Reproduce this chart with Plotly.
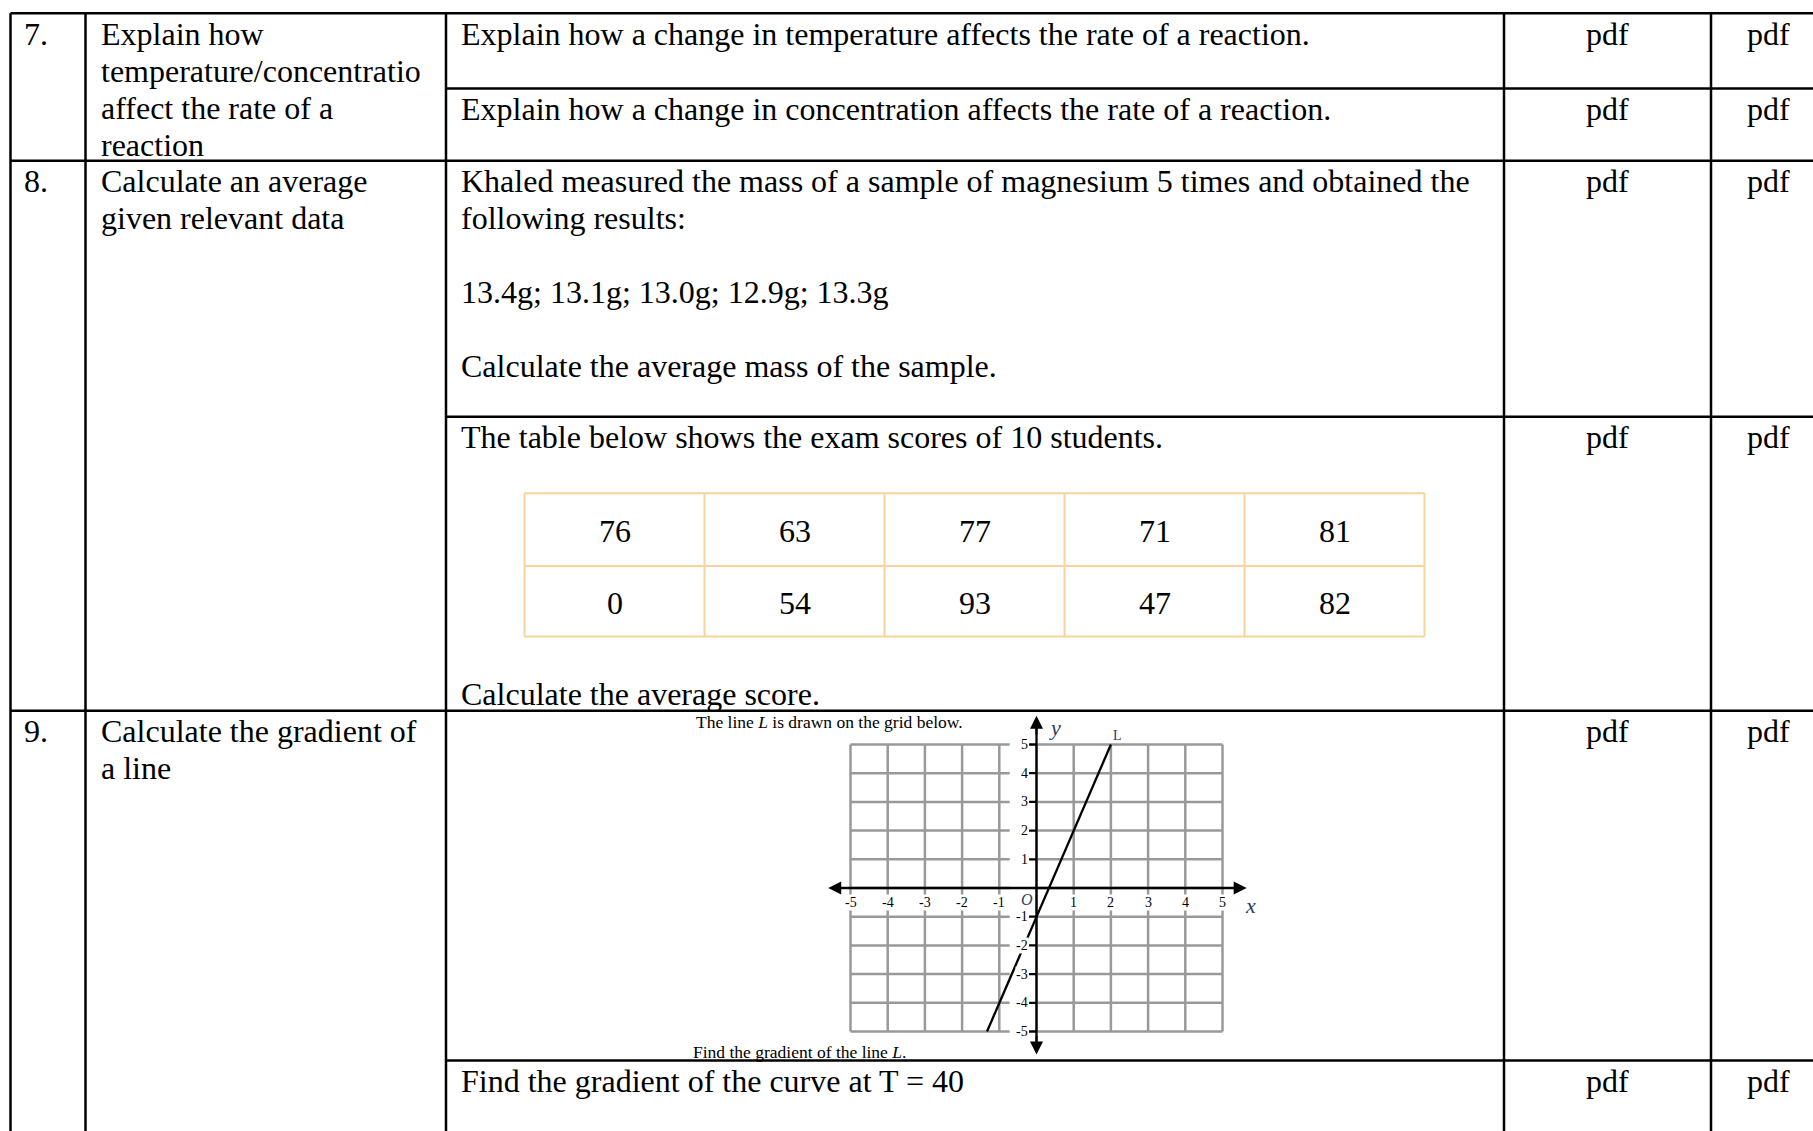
import plotly.graph_objects as go

W, H = 1813, 1131

# ---------------- data ----------------
row_numbers = ["7.", "8.", "9."]
skill_lines = [
    ["Explain how", "temperature/concentratio", "affect the rate of a", "reaction"],
    ["Calculate an average", "given relevant data"],
    ["Calculate the gradient of", "a line"],
]
q7a = "Explain how a change in temperature affects the rate of a reaction."
q7b = "Explain how a change in concentration affects the rate of a reaction."
q8a_lines = ["Khaled measured the mass of a sample of magnesium 5 times and obtained the",
             "following results:"]
masses = ["13.4g", "13.1g", "13.0g", "12.9g", "13.3g"]
q8a_end = "Calculate the average mass of the sample."
q8b_intro = "The table below shows the exam scores of 10 students."
scores_row1 = [76, 63, 77, 71, 81]
scores_row2 = [0, 54, 93, 47, 82]
q8b_end = "Calculate the average score."
graph_title = "The line <i>L</i> is drawn on the grid below."
graph_question = "Find the gradient of the line <i>L</i>."
q9b = "Find the gradient of the curve at T = 40"
resource_a = "pdf"
resource_b = "pdf"

line_L_x = [-1.33, 2]
line_L_y = [-5, 5]
x_tick_values = [-5, -4, -3, -2, -1, 1, 2, 3, 4, 5]
y_tick_values = [5, 4, 3, 2, 1, -1, -2, -3, -4, -5]
grid_values = [-5, -4, -3, -2, -1, 0, 1, 2, 3, 4, 5]

# ---------------- layout constants (pixels) ----------------
SERIF = "Liberation Serif, Times New Roman, serif"
FS = 32
COL_X = [10.5, 85.5, 446, 1504, 1711]
TOP = 13.3
HLINES = [(13.3, 10.5), (88.5, 446), (160.7, 10.5), (416.7, 446), (710.7, 10.5), (1060.5, 446)]
X_NUM, X_SKILL, X_Q = 22, 99, 458.5
PDF_X = [1607.5, 1768]
BASE_OFF = 31.0   # baseline distance below a row's top border

fig = go.Figure()
shapes = []
annotations = []


def mid(baseline, size):
    return baseline - 0.3375 * size


def text(x, baseline, s, size=FS, anchor="left", color="black"):
    annotations.append(dict(x=x, y=mid(baseline, size), xref="x", yref="y", text=s,
                            showarrow=False, xanchor=anchor, yanchor="middle",
                            font=dict(family=SERIF, size=size, color=color)))


# table lines
for y, x0 in HLINES:
    shapes.append(dict(type="line", xref="x", yref="y", x0=x0, x1=W + 5, y0=y, y1=y,
                       line=dict(color="black", width=2.5)))
for x in COL_X:
    shapes.append(dict(type="line", xref="x", yref="y", x0=x, x1=x, y0=TOP, y1=H + 5,
                       line=dict(color="black", width=2.5)))

LS = 37  # line spacing
row_tops = [13.3, 160.7, 710.7]
for i, top in enumerate(row_tops):
    b = top + BASE_OFF
    text(X_NUM, b, row_numbers[i])
    for k, ln in enumerate(skill_lines[i]):
        text(X_SKILL, b + k * LS, ln)

# question texts
text(X_Q, 13.3 + BASE_OFF, q7a)
text(X_Q, 88.5 + BASE_OFF, q7b)
b8 = 160.7 + BASE_OFF
text(X_Q, b8, q8a_lines[0])
text(X_Q, b8 + LS, q8a_lines[1])
text(X_Q, b8 + 3 * LS, "; ".join(masses))
text(X_Q, b8 + 5 * LS, q8a_end)
text(X_Q, 416.7 + BASE_OFF, q8b_intro)
text(X_Q, 705, q8b_end)
text(X_Q, 1060.5 + BASE_OFF, q9b)

# resource columns
for top in [13.3, 88.5, 160.7, 416.7, 710.7, 1060.5]:
    text(PDF_X[0], top + BASE_OFF, resource_a, anchor="center")
    text(PDF_X[1], top + BASE_OFF, resource_b, anchor="center")

# scores table
ST_X0, ST_CW = 524.5, 180.0
ST_Y = [493.3, 566.0, 636.5]
ORANGE = "#F7D49B"
for yy in ST_Y:
    shapes.append(dict(type="line", xref="x", yref="y", x0=ST_X0, x1=ST_X0 + 5 * ST_CW,
                       y0=yy, y1=yy, line=dict(color=ORANGE, width=2)))
for j in range(6):
    xx = ST_X0 + j * ST_CW
    shapes.append(dict(type="line", xref="x", yref="y", x0=xx, x1=xx, y0=ST_Y[0], y1=ST_Y[2],
                       line=dict(color=ORANGE, width=2)))
for j, v in enumerate(scores_row1):
    text(ST_X0 + (j + 0.5) * ST_CW, 541.5, str(v), anchor="center")
for j, v in enumerate(scores_row2):
    text(ST_X0 + (j + 0.5) * ST_CW, 613.5, str(v), anchor="center")

# small graph captions
text(829, 728, graph_title, size=17.5, anchor="center")
text(799, 1058, graph_question, size=17.5, anchor="center")

# ---------------- coordinate graph (subplot) ----------------
GX0, GPX = 1036.5, 37.2   # pixel of x=0, px per unit
GY0, GPY = 888.0, 28.7    # pixel of y=0, px per unit
XR, YR = 6.0, 6.5
dom_x = [(GX0 - XR * GPX) / W, (GX0 + XR * GPX) / W]
dom_y = [1 - (GY0 + YR * GPY) / H, 1 - (GY0 - YR * GPY) / H]

GRID = "#999999"
gx, gy = [], []
for v in grid_values:
    gx += [v, v, None]
    gy += [-5, 5, None]
for v in grid_values:
    gx += [-5, -0.72, None, 0, 5, None]
    gy += [v, v, None, v, v, None]
fig.add_trace(go.Scatter(x=gx, y=gy, mode="lines", line=dict(color=GRID, width=2.5),
                         xaxis="x2", yaxis="y2", hoverinfo="skip", showlegend=False))

# axis lines and ticks
ax_x = [-5.45, 5.5, None, 0, 0, None]
ax_y = [0, 0, None, -5.65, 5.85, None]
for v in y_tick_values:
    ax_x += [-0.2, 0, None]
    ax_y += [v, v, None]
fig.add_trace(go.Scatter(x=ax_x, y=ax_y, mode="lines", line=dict(color="black", width=2.3),
                         xaxis="x2", yaxis="y2", hoverinfo="skip", showlegend=False))

# line L
fig.add_trace(go.Scatter(x=line_L_x, y=line_L_y, mode="lines", line=dict(color="black", width=2.3),
                         xaxis="x2", yaxis="y2", showlegend=False))

# arrow heads
for (x1, y1, x0, y0) in [(-5.6, 0, -5.0, 0), (5.65, 0, 5.0, 0), (0, 6.0, 0, 5.3), (0, -5.8, 0, -5.1)]:
    annotations.append(dict(x=x1, y=y1, ax=x0, ay=y0, xref="x2", yref="y2", axref="x2", ayref="y2",
                            text="", showarrow=True, arrowhead=2, arrowsize=1.3, arrowwidth=2,
                            arrowcolor="black", standoff=0))

TF = dict(family=SERIF, size=14, color="black")
for v in x_tick_values:
    annotations.append(dict(x=v, y=-0.52, xref="x2", yref="y2", text=str(v), showarrow=False,
                            xanchor="center", yanchor="middle", font=TF, bgcolor="white",
                            borderpad=0))
for v in y_tick_values:
    annotations.append(dict(x=-0.2, y=v, xref="x2", yref="y2", text=str(v), showarrow=False,
                            xanchor="right", yanchor="middle", font=TF, bgcolor="white",
                            borderpad=0))
annotations.append(dict(x=-0.26, y=-0.4, xref="x2", yref="y2", text="<i>O</i>", showarrow=False,
                        xanchor="center", yanchor="middle", font=dict(family=SERIF, size=16)))
annotations.append(dict(x=0.5, y=5.6, xref="x2", yref="y2", text="<i>y</i>", showarrow=False,
                        xanchor="center", yanchor="middle", font=dict(family=SERIF, size=22)))
annotations.append(dict(x=5.75, y=-0.62, xref="x2", yref="y2", text="<i>x</i>", showarrow=False,
                        xanchor="center", yanchor="middle", font=dict(family=SERIF, size=22)))
annotations.append(dict(x=2.18, y=5.32, xref="x2", yref="y2", text="L", showarrow=False,
                        xanchor="center", yanchor="middle", font=dict(family=SERIF, size=14)))

hidden = dict(showgrid=False, zeroline=False, showticklabels=False, showline=False,
              ticks="", fixedrange=True)
fig.update_layout(
    width=W, height=H, autosize=False,
    margin=dict(l=0, r=0, t=0, b=0, pad=0),
    paper_bgcolor="white", plot_bgcolor="rgba(0,0,0,0)",
    showlegend=False,
    xaxis=dict(range=[0, W], domain=[0, 1], **hidden),
    yaxis=dict(range=[H, 0], domain=[0, 1], **hidden),
    xaxis2=dict(range=[-XR, XR], domain=dom_x, anchor="y2", **hidden),
    yaxis2=dict(range=[-YR, YR], domain=dom_y, anchor="x2", **hidden),
    shapes=shapes,
    annotations=annotations,
)

fig.write_html("out.html", config={"displayModeBar": False, "staticPlot": True},
               post_script="document.body.style.margin='0';document.body.style.overflow='hidden';")
